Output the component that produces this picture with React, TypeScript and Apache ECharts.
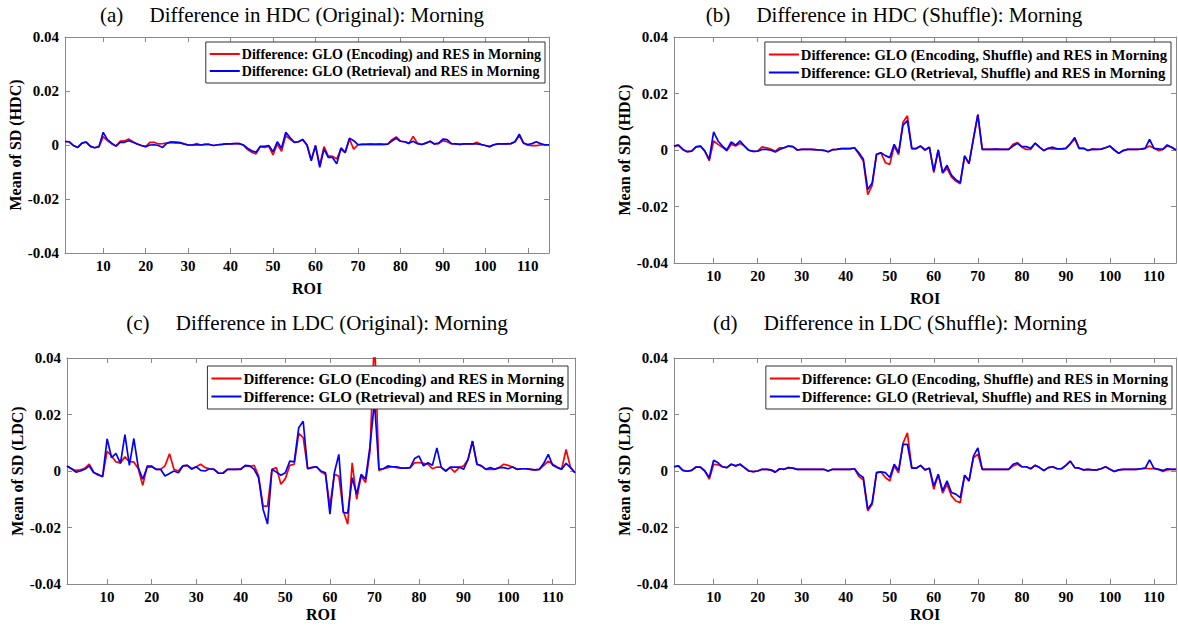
import React, { useEffect, useRef } from "react";
import * as echarts from "echarts";

const ROI: number[] = Array.from({ length: 115 }, (_, i) => i + 1);
const X_TICKS = [10, 20, 30, 40, 50, 60, 70, 80, 90, 100, 110];

const TITLES = [
  "(a)\u00a0\u00a0\u00a0\u00a0\u00a0Difference in HDC (Original): Morning",
  "(b)\u00a0\u00a0\u00a0\u00a0\u00a0Difference in HDC (Shuffle): Morning",
  "(c)\u00a0\u00a0\u00a0\u00a0\u00a0Difference in LDC (Original): Morning",
  "(d)\u00a0\u00a0\u00a0\u00a0\u00a0Difference in LDC (Shuffle): Morning",
];
const Y_NAMES = ["Mean of SD (HDC)", "Mean of SD (HDC)", "Mean of SD (LDC)", "Mean of SD (LDC)"];
const ENC_NAMES = [
  "Difference: GLO (Encoding) and RES in Morning",
  "Difference: GLO (Encoding, Shuffle) and RES in Morning",
  "Difference: GLO (Encoding) and RES in Morning",
  "Difference: GLO (Encoding, Shuffle) and RES in Morning",
];
const RET_NAMES = [
  "Difference: GLO (Retrieval) and RES in Morning",
  "Difference: GLO (Retrieval, Shuffle) and RES in Morning",
  "Difference: GLO (Retrieval) and RES in Morning",
  "Difference: GLO (Retrieval, Shuffle) and RES in Morning",
];

const A_RET = [
  0.0013, 0.0012, -0.0002, -0.0009, 0.0007, 0.0011, -0.0005, -0.0010, -0.0006, 0.0047,
  0.0020, 0.0007, -0.0004, 0.0010, 0.0010, 0.0016, 0.0010, 0.0004, -0.0002, -0.0006,
  0.0000, 0.0001, -0.0002, -0.0009, 0.0007, 0.0010, 0.0008, 0.0009, 0.0004, 0.0000,
  0.0000, 0.0001, 0.0000, 0.0002, 0.0002, -0.0002, 0.0001, 0.0002, 0.0004, 0.0004,
  0.0005, 0.0005, 0.0000, -0.0012, -0.0021, -0.0027, -0.0005, -0.0005, -0.0002, -0.0025,
  0.0012, -0.0012, 0.0047, 0.0028, 0.0010, 0.0012, 0.0020, 0.0000, -0.0058, -0.0002,
  -0.0083, -0.0015, -0.0046, -0.0046, -0.0070, -0.0011, -0.0027, 0.0025, 0.0016, 0.0001,
  0.0002, 0.0002, 0.0003, 0.0002, 0.0003, 0.0002, 0.0003, 0.0015, 0.0025, 0.0014,
  0.0012, 0.0007, 0.0014, 0.0005, 0.0002, 0.0007, 0.0014, 0.0004, 0.0007, 0.0022,
  0.0020, 0.0005, 0.0004, 0.0002, 0.0004, 0.0004, 0.0004, 0.0004, 0.0002, -0.0002,
  -0.0006, 0.0001, 0.0004, 0.0004, 0.0004, 0.0005, 0.0012, 0.0040, 0.0007, 0.0002,
  0.0005, 0.0012, 0.0005, 0.0001, 0.0001,
];
const A_ENC = [
  0.0013, 0.0012, -0.0002, -0.0009, 0.0007, 0.0011, -0.0005, -0.0010, -0.0006, 0.0031,
  0.0016, 0.0004, -0.0004, 0.0014, 0.0015, 0.0022, 0.0012, 0.0004, -0.0002, -0.0006,
  0.0010, 0.0010, 0.0004, 0.0005, 0.0007, 0.0012, 0.0012, 0.0009, 0.0004, 0.0000,
  0.0000, 0.0005, 0.0000, 0.0002, 0.0002, -0.0002, 0.0001, 0.0002, 0.0004, 0.0004,
  0.0005, 0.0005, 0.0000, -0.0017, -0.0027, -0.0033, -0.0006, -0.0009, -0.0005, -0.0037,
  0.0004, -0.0023, 0.0035, 0.0022, 0.0010, 0.0012, 0.0020, 0.0000, -0.0055, -0.0002,
  -0.0075, -0.0006, -0.0040, -0.0042, -0.0052, -0.0015, -0.0029, 0.0022, -0.0015, 0.0001,
  0.0002, 0.0002, 0.0003, 0.0002, 0.0003, 0.0002, 0.0003, 0.0020, 0.0030, 0.0014,
  0.0012, 0.0005, 0.0032, 0.0007, 0.0002, 0.0007, 0.0014, 0.0004, 0.0005, 0.0016,
  0.0012, 0.0005, 0.0004, 0.0002, 0.0004, 0.0004, 0.0004, 0.0010, 0.0002, -0.0002,
  -0.0006, 0.0001, 0.0004, 0.0004, 0.0004, 0.0005, 0.0012, 0.0035, 0.0007, -0.0001,
  -0.0002, -0.0002, 0.0000, 0.0001, 0.0001,
];
const B_RET = [
  0.0014, 0.0017, 0.0002, -0.0006, -0.0004, 0.0011, 0.0014, -0.0004, -0.0033, 0.0064,
  0.0032, 0.0014, 0.0000, 0.0029, 0.0017, 0.0032, 0.0014, -0.0001, -0.0005, -0.0004,
  0.0002, 0.0002, -0.0001, -0.0007, 0.0002, 0.0008, 0.0014, 0.0012, 0.0000, 0.0002,
  0.0002, 0.0002, 0.0001, 0.0000, -0.0001, -0.0006, 0.0001, 0.0002, 0.0005, 0.0005,
  0.0005, 0.0008, -0.0010, -0.0033, -0.0140, -0.0117, -0.0015, -0.0010, -0.0020, -0.0027,
  0.0020, -0.0010, 0.0088, 0.0104, 0.0005, 0.0005, 0.0014, 0.0000, 0.0010, -0.0075,
  0.0000, -0.0080, -0.0054, -0.0089, -0.0105, -0.0115, -0.0021, -0.0048, 0.0040, 0.0125,
  0.0002, 0.0002, 0.0002, 0.0003, 0.0002, 0.0002, 0.0002, 0.0014, 0.0024, 0.0012,
  0.0012, 0.0006, 0.0024, 0.0010, -0.0002, 0.0006, 0.0010, 0.0004, 0.0004, 0.0006,
  0.0022, 0.0044, 0.0006, 0.0006, -0.0002, 0.0003, 0.0002, 0.0003, 0.0008, 0.0014,
  0.0000, -0.0012, -0.0002, 0.0002, 0.0002, 0.0002, 0.0003, 0.0006, 0.0038, 0.0006,
  0.0004, 0.0002, 0.0018, 0.0010, 0.0000,
];
const B_ENC = [
  0.0014, 0.0017, 0.0002, -0.0006, -0.0004, 0.0011, 0.0014, -0.0004, -0.0038, 0.0032,
  0.0020, 0.0010, -0.0003, 0.0020, 0.0014, 0.0024, 0.0014, -0.0001, -0.0005, -0.0004,
  0.0011, 0.0008, 0.0003, -0.0004, 0.0008, 0.0008, 0.0014, 0.0012, 0.0000, 0.0002,
  0.0002, 0.0002, 0.0001, 0.0000, -0.0001, -0.0006, 0.0001, 0.0002, 0.0005, 0.0005,
  0.0005, 0.0008, -0.0015, -0.0039, -0.0158, -0.0125, -0.0015, -0.0010, -0.0045, -0.0051,
  0.0014, -0.0016, 0.0098, 0.0121, 0.0005, 0.0005, 0.0014, 0.0000, 0.0010, -0.0080,
  0.0000, -0.0082, -0.0065, -0.0095, -0.0110, -0.0120, -0.0021, -0.0048, 0.0040, 0.0125,
  0.0002, 0.0002, 0.0002, 0.0003, 0.0002, 0.0002, 0.0002, 0.0020, 0.0026, 0.0010,
  0.0002, 0.0002, 0.0024, 0.0010, -0.0002, 0.0006, 0.0004, 0.0004, 0.0004, 0.0006,
  0.0022, 0.0039, 0.0006, 0.0006, -0.0002, 0.0003, 0.0002, 0.0003, 0.0008, 0.0014,
  0.0000, -0.0012, -0.0002, 0.0002, 0.0002, 0.0002, 0.0003, 0.0006, 0.0014, 0.0006,
  -0.0002, 0.0002, 0.0014, 0.0010, 0.0000,
];
const C_RET = [
  0.0018, 0.0008, -0.0004, 0.0000, 0.0006, 0.0018, -0.0006, -0.0012, -0.0020, 0.0114,
  0.0047, 0.0062, 0.0027, 0.0129, 0.0020, 0.0115, 0.0012, -0.0029, 0.0014, 0.0015,
  0.0006, 0.0006, -0.0018, -0.0009, 0.0000, -0.0006, 0.0018, 0.0020, 0.0008, 0.0015,
  0.0002, 0.0000, 0.0008, 0.0006, -0.0008, -0.0008, 0.0006, 0.0006, 0.0006, 0.0006,
  0.0020, 0.0018, 0.0006, -0.0024, -0.0135, -0.0188, 0.0006, -0.0004, -0.0015, -0.0006,
  0.0035, 0.0032, 0.0153, 0.0176, 0.0008, 0.0013, 0.0015, 0.0000, -0.0006, -0.0153,
  -0.0006, 0.0059, -0.0147, -0.0149, -0.0024, -0.0082, -0.0012, -0.0029, 0.0088, 0.0245,
  0.0006, 0.0008, 0.0018, 0.0015, 0.0015, 0.0010, 0.0010, 0.0012, 0.0044, 0.0053,
  0.0018, 0.0029, 0.0020, 0.0082, 0.0012, 0.0000, 0.0014, 0.0014, 0.0014, 0.0006,
  0.0041, 0.0106, 0.0024, 0.0018, 0.0006, 0.0012, 0.0006, 0.0012, 0.0012, 0.0008,
  0.0014, 0.0006, 0.0008, 0.0008, 0.0006, 0.0004, 0.0006, 0.0027, 0.0059, 0.0020,
  0.0012, 0.0006, 0.0027, 0.0012, -0.0006,
];
const C_ENC = [
  0.0018, 0.0008, 0.0002, 0.0004, 0.0010, 0.0024, -0.0004, -0.0015, -0.0018, 0.0070,
  0.0053, 0.0032, 0.0029, 0.0050, 0.0032, 0.0032, 0.0008, -0.0051, 0.0018, 0.0018,
  0.0006, 0.0006, 0.0018, 0.0061, 0.0006, 0.0000, 0.0018, 0.0020, 0.0006, 0.0015,
  0.0024, 0.0012, 0.0008, 0.0006, -0.0008, -0.0008, 0.0006, 0.0006, 0.0006, 0.0008,
  0.0018, 0.0016, 0.0020, -0.0018, -0.0124, -0.0124, 0.0006, 0.0012, -0.0047, -0.0027,
  0.0020, 0.0024, 0.0133, 0.0118, 0.0008, 0.0012, 0.0015, -0.0003, -0.0012, -0.0124,
  -0.0012, -0.0018, -0.0141, -0.0188, 0.0029, -0.0100, -0.0018, -0.0041, 0.0070, 0.0480,
  0.0002, 0.0008, 0.0012, 0.0015, 0.0012, 0.0010, 0.0010, 0.0012, 0.0029, 0.0030,
  0.0027, 0.0024, 0.0008, 0.0014, 0.0014, 0.0000, 0.0012, -0.0004, 0.0012, 0.0018,
  0.0041, 0.0106, 0.0024, 0.0018, 0.0006, 0.0006, 0.0006, 0.0012, 0.0024, 0.0020,
  0.0014, 0.0006, 0.0008, 0.0008, 0.0006, 0.0004, 0.0006, 0.0020, 0.0035, 0.0024,
  0.0014, 0.0006, 0.0076, 0.0012, -0.0006,
];
const D_RET = [
  0.0015, 0.0018, 0.0002, -0.0001, 0.0002, 0.0014, 0.0014, 0.0000, -0.0023, 0.0038,
  0.0029, 0.0015, 0.0012, 0.0024, 0.0018, 0.0024, 0.0012, 0.0000, -0.0002, 0.0000,
  0.0006, 0.0006, 0.0004, -0.0004, 0.0008, 0.0006, 0.0012, 0.0010, 0.0006, 0.0006,
  0.0006, 0.0006, 0.0006, 0.0006, 0.0006, 0.0000, 0.0006, 0.0006, 0.0006, 0.0006,
  0.0006, 0.0008, -0.0012, -0.0023, -0.0135, -0.0112, -0.0006, -0.0003, -0.0006, -0.0023,
  0.0024, 0.0002, 0.0094, 0.0094, 0.0010, 0.0010, 0.0020, 0.0004, 0.0010, -0.0053,
  -0.0012, -0.0070, -0.0035, -0.0076, -0.0082, -0.0094, -0.0015, -0.0035, 0.0053, 0.0082,
  0.0006, 0.0006, 0.0006, 0.0006, 0.0006, 0.0006, 0.0006, 0.0024, 0.0029, 0.0015,
  0.0015, 0.0008, 0.0020, 0.0012, 0.0002, 0.0012, 0.0015, 0.0008, 0.0008, 0.0020,
  0.0035, 0.0012, 0.0010, 0.0004, 0.0006, 0.0004, 0.0004, 0.0008, 0.0015, 0.0006,
  -0.0002, 0.0004, 0.0006, 0.0006, 0.0006, 0.0006, 0.0008, 0.0010, 0.0039, 0.0009,
  0.0006, 0.0002, 0.0008, 0.0006, 0.0006,
];
const D_ENC = [
  0.0015, 0.0018, 0.0002, -0.0001, 0.0002, 0.0014, 0.0014, 0.0000, -0.0029, 0.0024,
  0.0022, 0.0015, 0.0012, 0.0024, 0.0018, 0.0024, 0.0012, 0.0000, -0.0002, 0.0000,
  0.0006, 0.0006, 0.0004, -0.0004, 0.0008, 0.0006, 0.0012, 0.0010, 0.0006, 0.0006,
  0.0006, 0.0006, 0.0006, 0.0006, 0.0006, 0.0000, 0.0006, 0.0006, 0.0006, 0.0006,
  0.0006, 0.0008, -0.0020, -0.0031, -0.0141, -0.0118, -0.0006, -0.0003, -0.0023, -0.0035,
  0.0018, -0.0006, 0.0098, 0.0135, 0.0010, 0.0010, 0.0020, 0.0004, 0.0010, -0.0065,
  -0.0012, -0.0078, -0.0047, -0.0088, -0.0106, -0.0112, -0.0015, -0.0035, 0.0047, 0.0059,
  0.0006, 0.0006, 0.0006, 0.0006, 0.0006, 0.0006, 0.0006, 0.0018, 0.0024, 0.0015,
  0.0015, 0.0008, 0.0020, 0.0012, 0.0002, 0.0012, 0.0015, 0.0008, 0.0008, 0.0020,
  0.0035, 0.0012, 0.0010, 0.0004, 0.0006, 0.0004, 0.0004, 0.0008, 0.0015, 0.0006,
  -0.0002, 0.0004, 0.0006, 0.0006, 0.0006, 0.0006, 0.0008, 0.0010, 0.0008, 0.0009,
  0.0006, -0.0002, 0.0004, 0.0006, 0.0006,
];

const ENC_DATA = [A_ENC, B_ENC, C_ENC, D_ENC];
const RET_DATA = [A_RET, B_RET, C_RET, D_RET];

const FONT = "'Liberation Serif', 'Times New Roman', Times, serif";
const AXIS_COLOR = "#8a8a8a";

// layout (pixels)
const GRIDS = [
  { left: 65, top: 37, width: 484, height: 216 },
  { left: 674, top: 37, width: 502, height: 226 },
  { left: 67, top: 358, width: 508, height: 226 },
  { left: 674, top: 358, width: 502, height: 226 },
];
const TITLE_POS = [
  { x: 292, y: 15 },
  { x: 894, y: 15 },
  { x: 317, y: 323 },
  { x: 900, y: 323 },
];
const LEGEND_POS = [
  { right: 1178 - 545, top: 42, size: 14 },
  { right: 1178 - 1171, top: 42, size: 14.7 },
  { right: 1178 - 568, top: 366, size: 15 },
  { right: 1178 - 1172, top: 366, size: 14.7 },
];
const XNAME_GAP = [27, 27, 22, 22];

export default function App() {
  const ref = useRef<HTMLDivElement>(null);

  useEffect(() => {
    document.body.style.margin = "0";
    if (!ref.current) return;
    const chart = echarts.init(ref.current, undefined, { renderer: "svg" });

    const labelStyle = {
      color: "#000",
      fontFamily: FONT,
      fontWeight: "bold" as const,
      fontSize: 15,
    };

    const xAxis: any[] = [];
    const yAxis: any[] = [];
    GRIDS.forEach((_, g) => {
      xAxis.push({
        gridIndex: g,
        type: "value",
        min: 1,
        max: 115,
        position: "bottom",
        axisLine: { show: true, onZero: false, lineStyle: { color: AXIS_COLOR, width: 1 } },
        axisTick: { show: true, inside: true, length: 5, customValues: X_TICKS, lineStyle: { color: AXIS_COLOR } },
        axisLabel: { ...labelStyle, customValues: X_TICKS, margin: 5 },
        splitLine: { show: false },
        name: "ROI",
        nameLocation: "middle",
        nameGap: XNAME_GAP[g],
        nameTextStyle: { ...labelStyle, fontSize: 16 },
      });
    });
    GRIDS.forEach((_, g) => {
      xAxis.push({
        gridIndex: g,
        type: "value",
        min: 1,
        max: 115,
        position: "top",
        axisLine: { show: true, onZero: false, lineStyle: { color: AXIS_COLOR, width: 1 } },
        axisTick: { show: true, inside: true, length: 5, customValues: X_TICKS, lineStyle: { color: AXIS_COLOR } },
        axisLabel: { show: false },
        splitLine: { show: false },
      });
    });
    const yFmt = (v: number) => (Math.abs(v) < 1e-9 ? "0" : v.toFixed(2));
    GRIDS.forEach((_, g) => {
      yAxis.push({
        gridIndex: g,
        type: "value",
        min: -0.04,
        max: 0.04,
        interval: 0.02,
        position: "left",
        axisLine: { show: true, onZero: false, lineStyle: { color: AXIS_COLOR, width: 1 } },
        axisTick: { show: true, inside: true, length: 5, lineStyle: { color: AXIS_COLOR } },
        axisLabel: { ...labelStyle, formatter: yFmt, margin: 6 },
        splitLine: { show: false },
        name: Y_NAMES[g],
        nameLocation: "middle",
        nameGap: 40,
        nameTextStyle: { ...labelStyle, fontSize: 16 },
      });
    });
    GRIDS.forEach((_, g) => {
      yAxis.push({
        gridIndex: g,
        type: "value",
        min: -0.04,
        max: 0.04,
        interval: 0.02,
        position: "right",
        axisLine: { show: true, onZero: false, lineStyle: { color: AXIS_COLOR, width: 1 } },
        axisTick: { show: true, inside: true, length: 5, lineStyle: { color: AXIS_COLOR } },
        axisLabel: { show: false },
        splitLine: { show: false },
      });
    });

    const series: any[] = [];
    GRIDS.forEach((_, g) => {
      series.push({
        type: "line",
        name: ENC_NAMES[g],
        xAxisIndex: g,
        yAxisIndex: g,
        data: ENC_DATA[g].map((v, i) => [ROI[i], v]),
        showSymbol: false,
        symbol: "none",
        color: "#ff0000",
        lineStyle: { color: "#ff0000", width: 1.7 },
        clip: true,
        z: 2,
      });
      series.push({
        type: "line",
        name: RET_NAMES[g],
        xAxisIndex: g,
        yAxisIndex: g,
        data: RET_DATA[g].map((v, i) => [ROI[i], v]),
        showSymbol: false,
        symbol: "none",
        color: "#0000ff",
        lineStyle: { color: "#0000ff", width: 1.7 },
        clip: true,
        z: 3,
      });
    });

    const legend = GRIDS.map((_, g) => ({
      data: [ENC_NAMES[g], RET_NAMES[g]],
      orient: "vertical",
      right: LEGEND_POS[g].right,
      top: LEGEND_POS[g].top,
      backgroundColor: "#fff",
      borderColor: "#333",
      borderWidth: 1,
      padding: [5, 4, 5, 4],
      itemGap: 3,
      itemWidth: 30,
      itemHeight: 2,
      icon: "rect",
      selectedMode: false,
      textStyle: {
        color: "#000",
        fontFamily: FONT,
        fontWeight: "bold",
        fontSize: LEGEND_POS[g].size,
        padding: [0, 0, 0, -3],
      },
    }));

    const graphic = TITLES.map((t, g) => ({
      type: "text",
      x: TITLE_POS[g].x,
      y: TITLE_POS[g].y,
      style: {
        text: t,
        fontFamily: FONT,
        fontSize: 21,
        fill: "#000",
        align: "center",
        verticalAlign: "middle",
      },
    }));

    chart.setOption({
      animation: false,
      backgroundColor: "#fff",
      grid: GRIDS.map((g) => ({ ...g, containLabel: false })),
      xAxis,
      yAxis,
      series,
      legend,
      graphic,
    });

    return () => chart.dispose();
  }, []);

  return <div ref={ref} style={{ width: 1178, height: 632 }} />;
}
